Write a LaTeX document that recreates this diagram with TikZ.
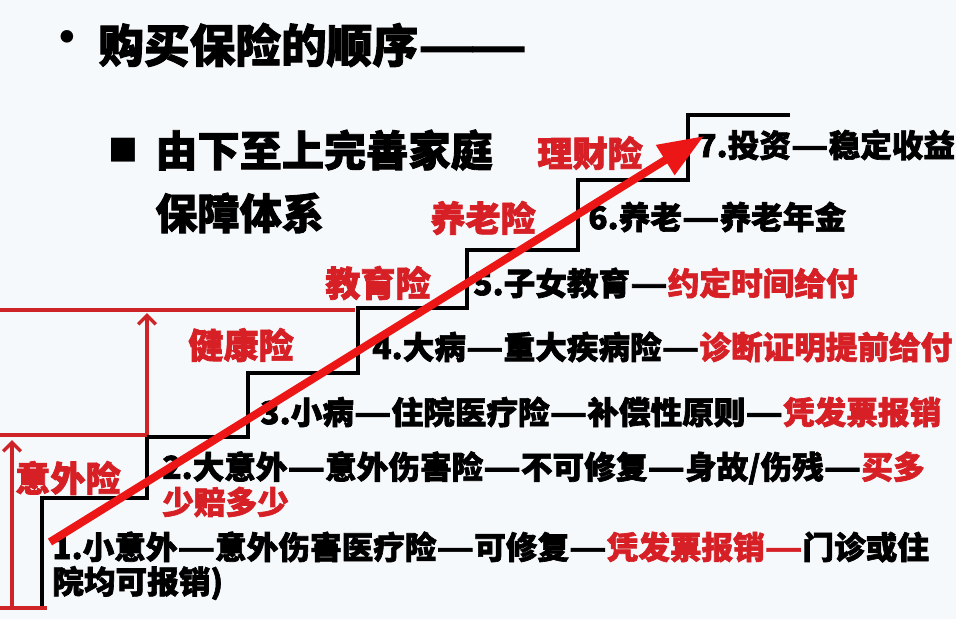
\documentclass[tikz,border=0pt]{standalone}
\usepackage{fontspec}
\usepackage{graphicx}
\setmainfont{Noto Sans CJK SC}[BoldFeatures={FakeBold=2}]
\usetikzlibrary{arrows.meta,positioning}
\definecolor{pptred}{RGB}{214,32,38}
\definecolor{risered}{RGB}{236,22,22}
\definecolor{linered}{RGB}{206,36,40}
\definecolor{bgpale}{RGB}{246,249,251}
\newcommand\ldash{\scalebox{1.3}[1]{—}}
\newcommand\tdash{\scalebox{1.38}[1]{—}}

\begin{document}
\begin{tikzpicture}[x=0.02cm,y=-0.02cm,>=Stealth,
  steptext/.style={anchor=west,inner sep=0pt,font=\fontsize{18}{18}\selectfont\bfseries},
  kind/.style={anchor=west,inner sep=0pt,text=pptred,font=\fontsize{20}{20}\selectfont\bfseries},
  head/.style={anchor=west,inner sep=0pt,font=\fontsize{24}{24}\selectfont\bfseries},
  redline/.style={linered,line width=2pt},
  redup/.style={redline,-{Straight Barb[length=5pt,width=10pt]}}]
  \fill[bgpale] (0,0) rectangle (956,619);
  \useasboundingbox (0,0) rectangle (956,619);

  \node[inner sep=0pt,font=\fontsize{34}{34}\selectfont] (dot) at (67,45) {•};
  \node[head,font=\fontsize{26}{26}\selectfont\bfseries] (title) at (98,45) {购买保险的顺序\tdash\kern-0.14em\tdash};
  \node[inner sep=0pt,font=\fontsize{17}{17}\selectfont] (box) at (123,150) {■};
  \node[head] (goal) at (155,150) {由下至上完善家庭};
  \node[head] (goalb) at (155,213) {保障体系};

  % stairs
  \draw[line width=1.8pt] (42,606) -- (42,498) -- (147,498) -- (147,437) -- (248,437)
    -- (248,373) -- (358,373) -- (358,308) -- (467,308) -- (467,250) -- (578,250)
    -- (578,180) -- (688,180) -- (688,115) -- (790,115);

  \node[steptext] (s7) at (697,145) {7.投资\ldash 稳定收益};
  \node[steptext] (s6) at (588,217) {6.养老\ldash 养老年金};
  \node[steptext] (s5) at (473,283) {5.子女教育\ldash\textcolor{pptred}{约定时间给付}};
  \node[steptext] (s4) at (372,347) {4.大病\ldash 重大疾病险\ldash\textcolor{pptred}{诊断证明提前给付}};
  \node[steptext] (s3) at (260,412) {3.小病\ldash 住院医疗险\ldash 补偿性原则\ldash\textcolor{pptred}{凭发票报销}};
  \node[steptext] (s2) at (162,468) {2.大意外\ldash 意外伤害险\ldash 不可修复\ldash 身故/伤残\ldash\textcolor{pptred}{买多}};
  \node[steptext,text=pptred] (s2b) at (162,502) {少赔多少};
  \node[steptext] (s1) at (52,547) {1.小意外\ldash 意外伤害医疗险\ldash 可修复\ldash\textcolor{pptred}{凭发票报销\ldash}门诊或住};
  \node[steptext] (s1b) at (52,583) {院均可报销)};

  \node[kind] (invest) at (537,153) {理财险};
  \node[kind] (pension) at (430,218) {养老险};
  \node[kind] (school) at (325,283) {教育险};
  \node[kind] (health) at (188,345) {健康险};
  \node[kind] (accident) at (15,478) {意外险};

  \coordinate (floor) at (0,608);
  \coordinate (floorend) at (47,608);
  \coordinate (base) at (12,608);
  \coordinate (lvla) at (0,435);
  \coordinate (lvlaend) at (147,435);
  \coordinate (lvlb) at (0,310);
  \coordinate (lvlbend) at (355,310);
  \draw[redline] (floor) -- (floorend);
  \draw[redline] (lvla) -- (lvlaend);
  \draw[redline] (lvlb) -- (lvlbend);
  \draw[redup] (base) -- (12,440);
  \draw[redup] (lvlaend) -- (147,313);

  \coordinate (rise0) at (50,542);
  \coordinate (rise1) at (704,136);
  \draw[risered,line width=4.5pt,-{Triangle[length=26pt,width=19pt]}] (rise0) -- (rise1);
\end{tikzpicture}
\end{document}
